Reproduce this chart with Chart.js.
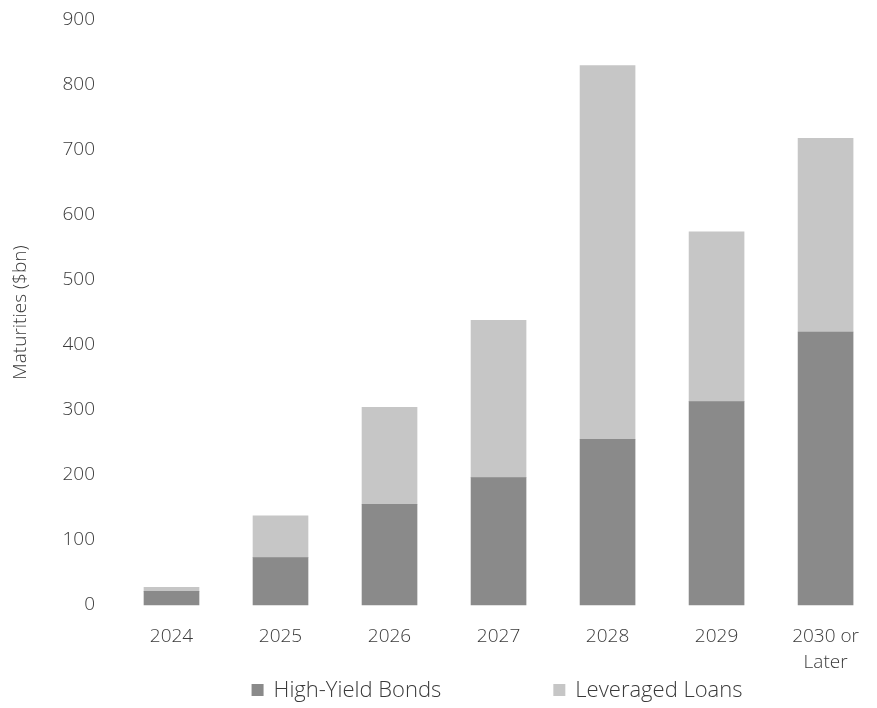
<!DOCTYPE html>
<html>
<head>
<meta charset="utf-8">
<script src="https://cdn.jsdelivr.net/npm/chart.js@4/dist/chart.umd.min.js"></script>
<style>
  html, body { margin: 0; padding: 0; background: #ffffff; }
  #wrap { width: 877px; height: 708px; position: relative; }
</style>
</head>
<body>
<div id="wrap"><canvas id="chart" width="877" height="708"></canvas></div>
<script>
// Maturity wall by year, $bn
const categories = ['2024', '2025', '2026', '2027', '2028', '2029', ['2030 or', 'Later']];
const highYieldBonds = [21, 73, 155, 196, 255, 313, 420];
const leveragedLoans = [6, 64, 149, 242, 575, 261, 298];
const yTicks = [0, 100, 200, 300, 400, 500, 600, 700, 800, 900];

const FONT = "'Open Sans', 'Segoe UI', sans-serif";
const TEXT = '#3a3a3a';
const HY_COLOR = '#8a8a8a';
const LL_COLOR = '#c6c6c6';

// Legend row drawn under the axis labels
const bottomLegend = {
  id: 'bottomLegend',
  afterDraw(chart) {
    const ctx = chart.ctx;
    const area = chart.chartArea;
    const box = 12, gapText = 10, gapItem = 112, y = 690;
    ctx.save();
    ctx.font = '300 22px ' + FONT;
    ctx.textBaseline = 'middle';
    ctx.textAlign = 'left';
    const items = chart.data.datasets.map(ds => ({
      label: ds.label, color: ds.backgroundColor,
      w: box + gapText + ctx.measureText(ds.label).width
    }));
    const total = items.reduce((s, it) => s + it.w, 0) + gapItem * (items.length - 1);
    let x = (area.left + area.right) / 2 - total / 2 - 1.5;
    items.forEach(it => {
      ctx.fillStyle = it.color;
      ctx.fillRect(x, y - box / 2, box, box);
      ctx.fillStyle = TEXT;
      ctx.fillText(it.label, x + box + gapText, y + 1);
      x += it.w + gapItem;
    });
    ctx.restore();
  }
};

new Chart(document.getElementById('chart'), {
  type: 'bar',
  data: {
    labels: categories,
    datasets: [
      { label: 'High-Yield Bonds', data: highYieldBonds, backgroundColor: HY_COLOR, barThickness: 55, clip: false },
      { label: 'Leveraged Loans', data: leveragedLoans, backgroundColor: LL_COLOR, barThickness: 55, clip: false }
    ]
  },
  options: {
    responsive: false,
    animation: false,
    layout: { padding: { top: 20, right: 39.5, bottom: 31, left: 0 } },
    plugins: {
      legend: { display: false },
      tooltip: { enabled: false }
    },
    scales: {
      x: {
        stacked: true,
        offset: false,
        grid: { display: false, drawTicks: false },
        border: { display: false },
        ticks: {
          color: TEXT,
          padding: 18,
          maxRotation: 0,
          autoSkip: false,
          font: { family: FONT, size: 19, weight: 300, lineHeight: 1.4 }
        },
        afterFit(scale) { scale.height = 72; }
      },
      y: {
        stacked: true,
        min: 0,
        max: 900,
        grid: { display: false, drawTicks: false },
        border: { display: false },
        afterBuildTicks(scale) { scale.ticks = yTicks.map(v => ({ value: v })); },
        ticks: {
          color: TEXT,
          padding: 76.5,
          font: { family: FONT, size: 19, weight: 300 }
        },
        title: {
          display: true,
          text: 'Maturities ($bn)',
          color: TEXT,
          padding: { top: 9, bottom: 0 },
          font: { family: FONT, size: 19, weight: 300 }
        },
        afterFit(scale) {
          scale.width = 171.5;
          // the wide label gap should not push the plot down from the top
          scale.paddingTop = 12;
          scale.paddingBottom = 12;
        }
      }
    }
  },
  plugins: [bottomLegend]
});
</script>
</body>
</html>
